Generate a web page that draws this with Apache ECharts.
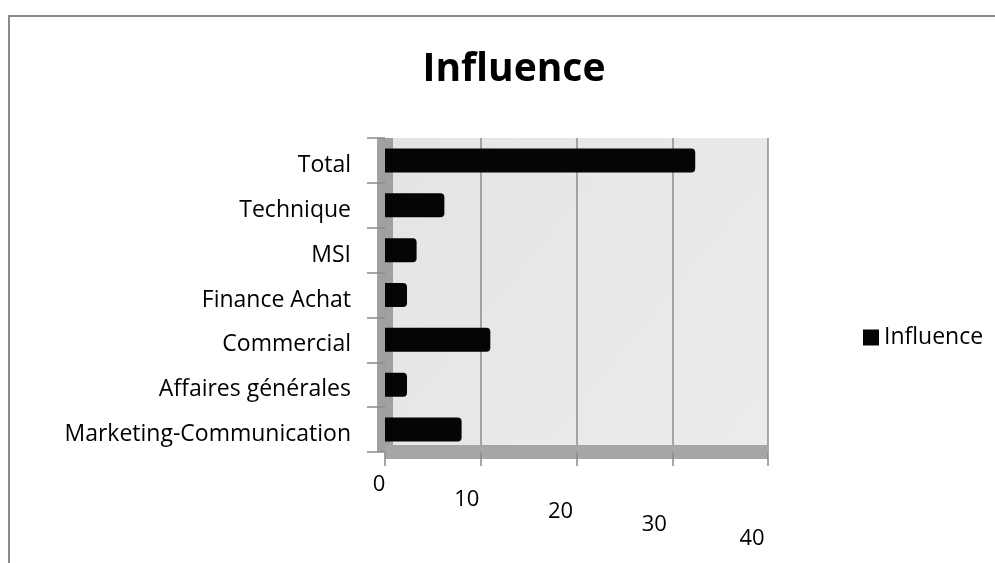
<!DOCTYPE html>
<html>
<head>
<meta charset="utf-8">
<script src="https://cdn.jsdelivr.net/npm/echarts@6/dist/echarts.min.js"></script>
<style>
  html, body { margin: 0; padding: 0; background: #fff; }
  #frame { position: absolute; left: 8px; top: 15px; right: -10px; bottom: -10px;
           border-top: 2px solid #8a8a8a; border-left: 2px solid #8a8a8a; }
  #chart { position: absolute; left: 0; top: 0; width: 995px; height: 563px; }
</style>
</head>
<body>
<div id="frame"></div>
<div id="chart"></div>
<script>
// catégories (de bas en haut, comme dans Excel)
const categories = ['Marketing-Communication', 'Affaires générales', 'Commercial',
                    'Finance Achat', 'MSI', 'Technique', 'Total'];
const influence = [8, 2.3, 11, 2.3, 3.3, 6.2, 32.4];
const xTicks = [0, 10, 20, 30, 40];

const font = '"Open Sans", "Noto Sans", sans-serif';

// décalage des libellés de l'axe X pour imiter la perspective
const tickRich = {};
const tickShift = [[21, 12], [51, 28], [75, 32], [101, 36], [129, 32]];
xTicks.forEach((t, i) => {
    tickRich['l' + i] = {
        fontFamily: font, fontSize: 22, color: '#000', lineHeight: 28,
        padding: [tickShift[i][0], tickShift[i][1], 0, 0]
    };
});

const chart = echarts.init(document.getElementById('chart'));
chart.setOption({
    backgroundColor: 'transparent',
    animation: false,
    title: {
        text: 'Influence',
        left: 509, top: 45, textAlign: 'center',
        textStyle: { fontFamily: font, fontSize: 39, fontWeight: 'bold', color: '#000' }
    },
    legend: {
        data: ['Influence'],
        left: 858, top: 321,
        icon: 'rect', itemWidth: 16, itemHeight: 16, itemGap: 5,
        textStyle: { fontFamily: font, fontSize: 23, color: '#000' }
    },
    grid: {
        left: 385, right: 227, top: 138, bottom: 111,
        show: true, borderWidth: 0,
        backgroundColor: new echarts.graphic.LinearGradient(0, 0, 1, 1, [
            { offset: 0, color: '#e4e4e4' }, { offset: 1, color: '#ececec' }
        ])
    },
    xAxis: {
        type: 'value', min: 0, max: 40, interval: 10,
        axisLine: { show: true, lineStyle: { color: '#a6a6a6', width: 14, cap: 'butt' } },
        axisTick: { show: true, length: 14, lineStyle: { color: '#8a8a8a', width: 1.5 } },
        splitLine: { show: true, lineStyle: { color: '#8c8c8c', width: 1.5 } },
        axisLabel: {
            margin: 8,
            formatter: v => '{l' + xTicks.indexOf(v) + '|' + v + '}',
            rich: tickRich
        }
    },
    yAxis: {
        type: 'category', data: categories,
        axisLine: { show: true, lineStyle: { color: '#a0a0a0', width: 16, cap: 'butt' } },
        axisTick: { show: true, length: 18, lineStyle: { color: '#8a8a8a', width: 1.5 } },
        axisLabel: {
            margin: 34,
            formatter: v => '{c|' + v + '}',
            rich: { c: { fontFamily: font, fontSize: 23, color: '#000', lineHeight: 30, padding: [10, 0, 0, 0] } }
        }
    },
    series: [{
        name: 'Influence', type: 'bar', data: influence,
        barWidth: 24,
        itemStyle: { color: '#050505', borderRadius: [0, 4, 4, 0] }
    }]
});
</script>
</body>
</html>
